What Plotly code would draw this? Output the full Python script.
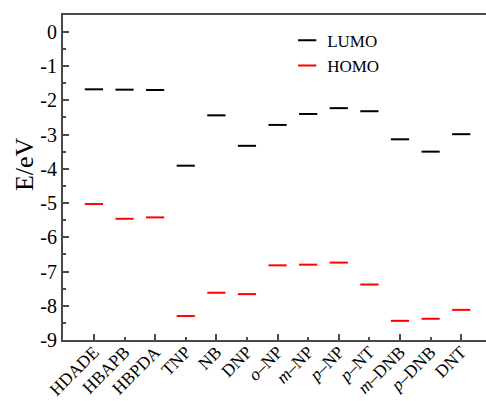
import plotly.graph_objects as go

categories = ["HDADE", "HBAPB", "HBPDA", "TNP", "NB", "DNP",
              "<i>o</i>–NP", "<i>m</i>–NP", "<i>p</i>–NP", "<i>p</i>–NT",
              "<i>m</i>–DNB", "<i>p</i>–DNB", "DNT"]
lumo = [-1.68, -1.69, -1.70, -3.91, -2.44, -3.33, -2.72, -2.40, -2.23, -2.32, -3.14, -3.50, -2.99]
homo = [-5.03, -5.46, -5.42, -8.30, -7.62, -7.66, -6.82, -6.80, -6.74, -7.38, -8.44, -8.38, -8.12]
y_ticks = [0, -1, -2, -3, -4, -5, -6, -7, -8, -9]
y_title = "E/eV"

idx = list(range(len(categories)))
FONT = "Liberation Serif"
AX = "#4a4a4a"

fig = go.Figure()
fig.add_trace(go.Scatter(x=idx, y=lumo, mode="markers", name="LUMO",
                         marker=dict(symbol="line-ew", size=13, color="black",
                                     line=dict(width=2, color="black"))))
fig.add_trace(go.Scatter(x=idx, y=homo, mode="markers", name="HOMO",
                         marker=dict(symbol="line-ew", size=13, color="red",
                                     line=dict(width=2, color="red"))))
# invisible trace to carry long-tick overlay axis
fig.add_trace(go.Scatter(x=[idx[0]], y=[lumo[0]], xaxis="x2", mode="markers",
                         marker=dict(opacity=0), showlegend=False, hoverinfo="skip"))

xr = [-1.01, 12.81]
fig.update_layout(
    width=486, height=401,
    margin=dict(l=63, r=0, t=15, b=61, autoexpand=False),
    paper_bgcolor="white", plot_bgcolor="white",
    font=dict(family=FONT, size=17, color="black"),
    showlegend=True,
    legend=dict(x=0.53, y=0.976, xanchor="left", yanchor="top",
                bgcolor="rgba(0,0,0,0)", font=dict(family=FONT, size=17),
                tracegroupgap=0, itemwidth=30),
    xaxis=dict(range=xr, tickmode="array", tickvals=idx, ticktext=categories,
               tickangle=-45, ticks="inside", ticklen=3, tickwidth=1.5, tickcolor=AX,
               showline=True, linecolor=AX, linewidth=2, mirror=True,
               showgrid=False, zeroline=False, automargin=False,
               ticklabelstandoff=-7,
               tickfont=dict(family=FONT, size=17.5, color="black")),
    xaxis2=dict(range=xr, overlaying="x", anchor="y", side="bottom",
                tickmode="array", tickvals=idx[::2], ticks="inside", ticklen=6,
                tickwidth=1.5, tickcolor=AX, showticklabels=False, automargin=False,
                showline=False, showgrid=False, zeroline=False),
    yaxis=dict(range=[-9, 0.49], tickmode="array", tickvals=y_ticks,
               ticktext=[str(v) for v in y_ticks],
               ticks="inside", ticklen=6, tickwidth=1.5, tickcolor=AX,
               minor=dict(tickmode="linear", tick0=0.5, dtick=1, ticks="inside",
                          ticklen=3, tickwidth=1.5, tickcolor=AX),
               showline=True, linecolor=AX, linewidth=2, mirror=False,
               showgrid=False, zeroline=False, automargin=False,
               tickfont=dict(family=FONT, size=20, color="black")),
    annotations=[dict(text=y_title, textangle=-90, xref="paper", yref="paper",
                      x=-0.092, y=0.5415, xanchor="center", yanchor="middle",
                      showarrow=False, font=dict(family=FONT, size=26, color="black"))],
)

fig.write_html("out.html")
